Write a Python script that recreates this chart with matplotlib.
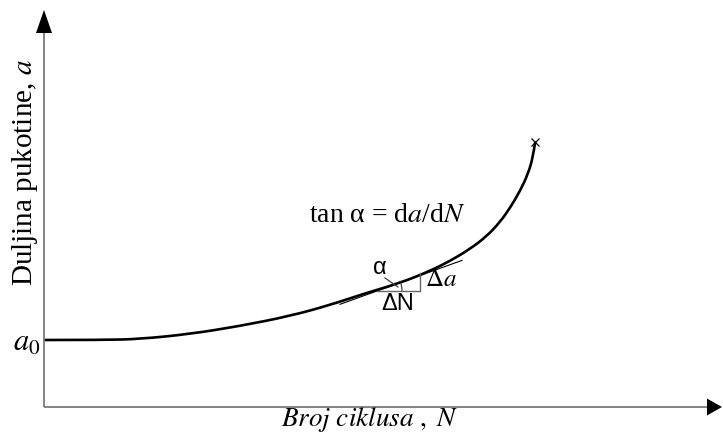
import matplotlib
matplotlib.use("Agg")
import matplotlib.pyplot as plt
import numpy as np
from matplotlib.patches import Arc, PathPatch
from matplotlib.path import Path

plt.rcParams['mathtext.fontset'] = 'stix'
plt.rcParams['font.family'] = ['Liberation Serif', 'DejaVu Serif']

# Crack growth curve: cycles N vs crack length a (arbitrary units)
N_vals = [1, 60, 96, 146, 196, 246, 286, 319, 356, 386, 406, 426, 443, 456, 466, 476, 484, 489, 491]
a_vals = [67, 67, 68, 73, 81, 91, 102, 113, 124, 136, 146, 158, 171, 185, 199, 216, 233, 250, 264]

# Tangent line and slope triangle
tan_N = [296, 418]
tan_slope = 0.36
tri_N0, tri_a0 = 333, 116
tri_dN = 43
tri_da = 18

# Axis extents
x_end, y_end = 663, 374
x_tip, y_tip = 678, 397

fig = plt.figure(figsize=(7.23, 4.37), dpi=100)
ax = fig.add_axes([0, 0, 1, 1])
ax.set_xlim(-44, 679)
ax.set_ylim(-30, 407)
ax.axis('off')

axis_col = '#7a7a7a'
ax.plot([0, x_end], [0, 0], color=axis_col, lw=1.3, solid_capstyle='butt')
ax.plot([0, 0], [0, y_end], color=axis_col, lw=1.3, solid_capstyle='butt')
ax.fill([x_end, x_tip, x_end], [-8.5, 0, 8.5], color='black', lw=0)
ax.fill([-8, 0, 8], [y_end, y_tip, y_end], color='black', lw=0)

# main curve, smoothed with quadratic Bezier segments through the read points
P = np.column_stack([N_vals, a_vals]).astype(float)
verts = [P[0]]
codes = [Path.MOVETO]
n = len(P)
for i in range(1, n - 2):
    verts += [P[i], (P[i] + P[i + 1]) / 2]
    codes += [Path.CURVE3, Path.CURVE3]
verts += [P[n - 2], P[n - 1]]
codes += [Path.CURVE3, Path.CURVE3]
ax.add_patch(PathPatch(Path(verts, codes), facecolor='none', edgecolor='black',
                       lw=1.9, capstyle='round', joinstyle='round'))
ax.plot([N_vals[-1]], [a_vals[-1] + 1], marker='x', color='black', ms=6, mew=0.9)

# tangent
t_a = [tri_a0 + tan_slope * (x - tri_N0) for x in tan_N]
ax.plot(tan_N, t_a, color='black', lw=0.8)

# triangle
ax.plot([tri_N0, tri_N0 + tri_dN, tri_N0 + tri_dN],
        [tri_a0, tri_a0, tri_a0 + tri_da], color='#666666', lw=1.0)
ax.add_patch(Arc((tri_N0, tri_a0), 50, 50, theta1=0, theta2=24, color='#444444', lw=0.9))
ax.plot([341, 354], [129, 120], color='#444444', lw=0.9)

# labels
ax.text(tri_N0 + 3, 139, 'α', family='Liberation Sans', fontsize=17, ha='center', va='center')
ax.text(354, 103, 'ΔN', family='Liberation Sans', fontsize=17, ha='center', va='center')
ax.text(381, 127, r'$\Delta a$', fontsize=18, ha='left', va='center')
ax.text(265, 185, r'tan α = d$a$/d$N$', fontsize=20, ha='left', va='baseline')
ax.text(-4, 56, r'$a_0$', fontsize=22, ha='right', va='baseline')

ax.text(326, -12, r'$Broj\ ciklusa\ ,\ N$', fontsize=19.5, ha='center', va='center')
ax.text(-19, 234, r'Duljina pukotine, $a$', fontsize=21, rotation=90, ha='center', va='center')

fig.savefig('out.png', dpi=100)
